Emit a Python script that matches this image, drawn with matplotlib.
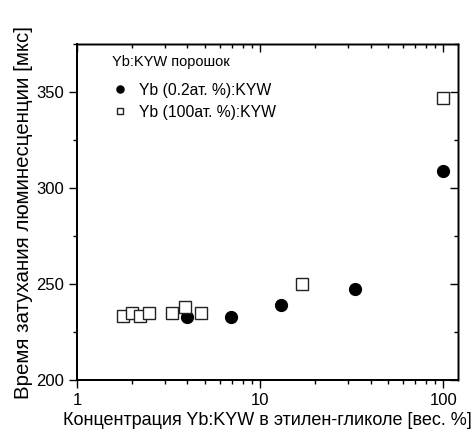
import matplotlib
matplotlib.use("Agg")
import matplotlib.pyplot as plt
from matplotlib.ticker import MultipleLocator, FixedLocator, NullFormatter

plt.rcParams['font.family'] = ['Liberation Sans', 'DejaVu Sans']

# данные: Yb (0.2 ат.%):KYW
conc_02 = [4.0, 6.95, 12.9, 32.8, 100]
tau_02 = [233.0, 233.0, 239.0, 247.5, 309.0]

# данные: Yb (100 ат.%):KYW
conc_100 = [1.78, 1.98, 2.2, 2.47, 3.29, 3.88, 4.76, 16.9, 100]
tau_100 = [233.3, 235.0, 233.3, 234.7, 235.0, 238.2, 235.0, 250.0, 347.0]

yticks = [200, 250, 300, 350]

fig = plt.figure(figsize=(4.73, 4.32), dpi=100)
ax = fig.add_axes([0.1634, 0.1204, 0.8046, 0.7771])

ax.set_xscale('log')
ax.set_xlim(1, 120)
ax.set_ylim(200, 375)

# верхняя и правая оси: засечки внутрь, без подписей
ax2 = ax.twinx()
ax2.set_ylim(200, 375)
ax2.yaxis.set_major_locator(FixedLocator(yticks))
ax2.yaxis.set_minor_locator(MultipleLocator(25))
ax2.tick_params(which='both', direction='in', labelright=False, width=1)
ax2.tick_params(which='major', length=6)
ax2.tick_params(which='minor', length=3)
ax3 = ax.twiny()
ax3.set_xscale('log')
ax3.set_xlim(1, 120)
ax3.xaxis.set_minor_formatter(NullFormatter())
ax3.tick_params(which='both', direction='in', labeltop=False, width=1)
ax3.tick_params(which='major', length=6)
ax3.tick_params(which='minor', length=3)

ax.plot(conc_02, tau_02, 'o', color='black', markersize=8.5,
        label='Yb (0.2ат. %):KYW')
ax.plot(conc_100, tau_100, 's', markerfacecolor='white', markeredgecolor='#222222',
        markeredgewidth=1.0, markersize=8, label='Yb (100ат. %):KYW')
ax.set_zorder(3)
ax.patch.set_visible(False)

ax.yaxis.set_major_locator(FixedLocator(yticks))
ax.yaxis.set_minor_locator(MultipleLocator(25))
ax.xaxis.set_minor_formatter(NullFormatter())
ax.set_xticks([1, 10, 100])
ax.set_xticklabels(['1', '10', '100'])

ax.tick_params(axis='both', which='both', labelsize=12, width=1, direction='out')
ax.tick_params(axis='both', which='major', length=6)
ax.tick_params(axis='both', which='minor', length=3)

for a in (ax, ax2, ax3):
    for s in ['left', 'bottom']:
        a.spines[s].set_linewidth(1.3)
    for s in ['top', 'right']:
        a.spines[s].set_linewidth(1.0)

ax.set_xlabel('Концентрация Yb:KYW в этилен-гликоле [вес. %]', fontsize=13, labelpad=3)
ax.set_ylabel('Время затухания люминесценции [мкс]', fontsize=14.8, labelpad=2)

ax.text(0.091, 0.947, 'Yb:KYW порошок', transform=ax.transAxes,
        fontsize=10.5, ha='left', va='center')
ax.legend(loc='upper left', frameon=False, fontsize=11.3, markerscale=0.6,
          handletextpad=0.7, handlelength=1.0, labelspacing=0.45,
          borderpad=0, borderaxespad=0, bbox_to_anchor=(0.091, 0.885))

fig.savefig('out.png', dpi=100)
